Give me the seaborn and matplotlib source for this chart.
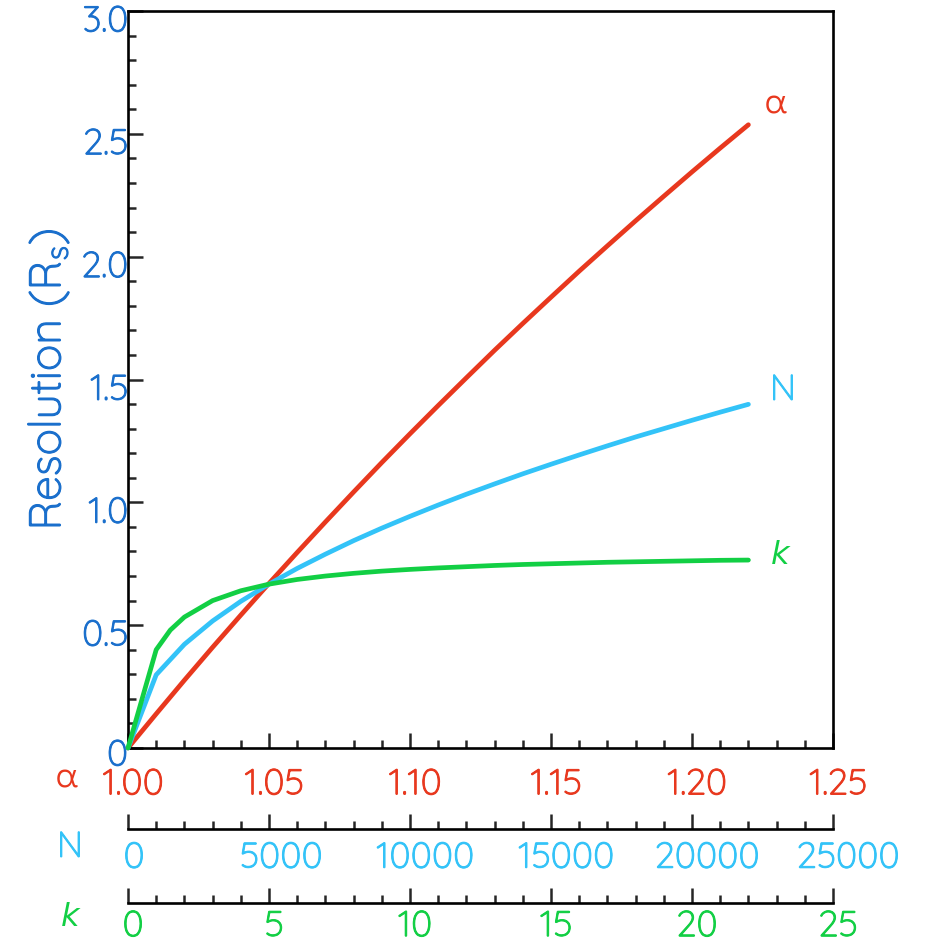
import numpy as np
import pandas as pd
import matplotlib
matplotlib.use("Agg")
import matplotlib.pyplot as plt
import matplotlib.transforms as mtrans
import matplotlib.patheffects as pe
import seaborn as sns
from matplotlib.ticker import MultipleLocator, FixedLocator, FixedFormatter

# ---------------- data ----------------
alpha_vals = [1.00, 1.01, 1.02, 1.03, 1.04, 1.05, 1.06, 1.07, 1.08, 1.09, 1.10, 1.11,
              1.12, 1.13, 1.14, 1.15, 1.16, 1.17, 1.18, 1.19, 1.20, 1.21, 1.22]
rs_alpha = [0.0, 0.139, 0.276, 0.410, 0.541, 0.670, 0.796, 0.920, 1.042, 1.162, 1.279, 1.394,
            1.507, 1.619, 1.728, 1.835, 1.941, 2.044, 2.146, 2.246, 2.345, 2.442, 2.537]

n_vals = [0, 1000, 2000, 3000, 4000, 5000, 6000, 7000, 8000, 9000, 10000, 11000,
          12000, 13000, 14000, 15000, 16000, 17000, 18000, 19000, 20000, 21000, 22000]
rs_n = [0.0, 0.298, 0.422, 0.517, 0.597, 0.667, 0.731, 0.789, 0.844, 0.895, 0.943, 0.989,
        1.033, 1.075, 1.116, 1.155, 1.193, 1.230, 1.266, 1.300, 1.334, 1.367, 1.399]

k_vals = [0, 1, 1.5, 2, 3, 4, 5, 6, 7, 8, 9, 10, 11, 12, 13, 14, 15, 16, 17, 18, 19, 20, 21, 22]
rs_k = [0.0, 0.400, 0.480, 0.533, 0.600, 0.640, 0.667, 0.686, 0.700, 0.711, 0.720, 0.727,
        0.733, 0.738, 0.743, 0.747, 0.750, 0.753, 0.756, 0.758, 0.760, 0.762, 0.764, 0.765]

y_ticks = [0, 0.5, 1.0, 1.5, 2.0, 2.5, 3.0]
y_labels = ["0", "0.5", "1.0", "1.5", "2.0", "2.5", "3.0"]
alpha_ticks = [1.00, 1.05, 1.10, 1.15, 1.20, 1.25]
alpha_labels = ["1.00", "1.05", "1.10", "1.15", "1.20", "1.25"]
n_ticks = [0, 5000, 10000, 15000, 20000, 25000]
n_labels = ["0", "5000", "10000", "15000", "20000", "25000"]
k_ticks = [0, 5, 10, 15, 20, 25]
k_labels = ["0", "5", "10", "15", "20", "25"]

# ---------------- style ----------------
RED = "#E8381E"
LBLUE = "#33C3F8"
GREEN = "#12CF44"
DBLUE = "#1A6FCC"

sns.set_style("ticks")
FAMILY = ["Quicksand", "Didact Gothic", "DejaVu Sans"]
plt.rcParams["font.family"] = FAMILY
TICK_FS = 26
LW = 3.4

def bold_fx(color, w=0.7):
    return [pe.withStroke(linewidth=w, foreground=color)]

W, H = 927, 945
fig = plt.figure(figsize=(W / 100, H / 100), dpi=100)

L, R, T, B = 128 / W, 833 / W, 1 - 12 / H, 1 - 749 / H
ax = fig.add_axes([L, B, R - L, T - B])
ax_n = ax.twiny()
ax_k = ax.twiny()

df_a = pd.DataFrame({"x": alpha_vals, "y": rs_alpha})
df_n = pd.DataFrame({"x": n_vals, "y": rs_n})
df_k = pd.DataFrame({"x": k_vals, "y": rs_k})

sns.lineplot(data=df_a, x="x", y="y", ax=ax, color=RED, lw=LW, clip_on=False)
sns.lineplot(data=df_k, x="x", y="y", ax=ax_k, color=GREEN, lw=LW, clip_on=False)
sns.lineplot(data=df_n, x="x", y="y", ax=ax_n, color=LBLUE, lw=LW, clip_on=False)

ax.set_xlim(1.0, 1.25)
ax.set_ylim(0, 3.0)
ax_n.set_xlim(0, 25000)
ax_k.set_xlim(0, 25)
for a in (ax_n, ax_k):
    a.set_ylim(0, 3.0)
    a.axis("off")

for s in ax.spines.values():
    s.set_linewidth(1.9)
    s.set_color("black")

ax.yaxis.set_major_locator(FixedLocator(y_ticks))
ax.yaxis.set_major_formatter(FixedFormatter(y_labels))
ax.yaxis.set_minor_locator(MultipleLocator(0.1))
ax.xaxis.set_major_locator(FixedLocator(alpha_ticks))
ax.xaxis.set_major_formatter(FixedFormatter(alpha_labels))
ax.xaxis.set_minor_locator(MultipleLocator(0.01))
ax.tick_params(axis="both", which="major", direction="in", length=11, width=1.8,
               labelsize=TICK_FS, top=False, right=False)
ax.tick_params(axis="both", which="minor", direction="in", length=6, width=1.8,
               top=False, right=False)
ax.tick_params(axis="y", which="major", pad=0, labelcolor=DBLUE)
ax.tick_params(axis="x", which="major", pad=14, labelcolor=RED)
ax.set_xlabel("")
ax.set_ylabel("Resolution (R$_{\\mathregular{s}}$)", fontsize=32, color=DBLUE, labelpad=7,
              path_effects=bold_fx(DBLUE, 0.8))

# secondary scale axes (N and k)
def scale_axis(ybase, lim, ticks, labels, minor, color, pad):
    sa = fig.add_axes([L, 1 - ybase / H, R - L, 0.0001])
    sa.set_xlim(*lim)
    sa.set_yticks([])
    for side in ("top", "left", "right"):
        sa.spines[side].set_visible(False)
    sa.spines["bottom"].set_linewidth(1.9)
    sa.spines["bottom"].set_color("black")
    sa.xaxis.set_major_locator(FixedLocator(ticks))
    sa.xaxis.set_major_formatter(FixedFormatter(labels))
    sa.xaxis.set_minor_locator(MultipleLocator(minor))
    sa.tick_params(axis="x", which="major", direction="in", length=11, width=1.8,
                   labelsize=TICK_FS, labelcolor=color, pad=pad)
    sa.tick_params(axis="x", which="minor", direction="in", length=6, width=1.8)
    sa.patch.set_visible(False)
    for lab in sa.get_xticklabels():
        lab.set_path_effects(bold_fx(color))
    return sa

ax_nscale = scale_axis(830, (0, 25000), n_ticks, n_labels, 1000, LBLUE, 8.5)
ax_kscale = scale_axis(904, (0, 25), k_ticks, k_labels, 1, GREEN, 4.5)

for lab in ax.get_yticklabels():
    lab.set_path_effects(bold_fx(DBLUE))
for lab in ax.get_xticklabels():
    lab.set_path_effects(bold_fx(RED))

# small label offsets as in the reference rendering
def shift(labels, dx_px, dy_px):
    for lab in labels:
        off = mtrans.ScaledTranslation(dx_px / 100, dy_px / 100, fig.dpi_scale_trans)
        lab.set_transform(lab.get_transform() + off)

ylabs = ax.get_yticklabels()
shift(ylabs[:1], 0, -4)
shift(ylabs[1:], 0, -7)
shift(ax.get_xticklabels(), 5, 0)
shift(ax_kscale.get_xticklabels(), 5, 0)
nlabs = ax_nscale.get_xticklabels()
shift(nlabs[:1], 6, 0)
shift(nlabs[1:2], 12, 0)
shift(nlabs[2:], 15, 0)

# axis names on the left
fig.text(67 / W, 1 - 778 / H, "α", color=RED, fontsize=TICK_FS, ha="center", va="center")
fig.text(70 / W, 1 - 848 / H, "N", color=LBLUE, fontsize=TICK_FS, ha="center", va="center",
         path_effects=bold_fx(LBLUE))
fig.text(70 / W, 1 - 918 / H, "k", color=GREEN, fontsize=TICK_FS - 3, ha="center", va="center",
         style="oblique", family=["DejaVu Sans"])

# curve labels
fig.text(776 / W, 1 - 104 / H, "α", color=RED, fontsize=TICK_FS, ha="center", va="center")
fig.text(783 / W, 1 - 391 / H, "N", color=LBLUE, fontsize=TICK_FS, ha="center", va="center",
         path_effects=bold_fx(LBLUE))
fig.text(780 / W, 1 - 555 / H, "k", color=GREEN, fontsize=TICK_FS - 3, ha="center", va="center",
         style="oblique", family=["DejaVu Sans"])

fig.savefig("out.png", dpi=100)
